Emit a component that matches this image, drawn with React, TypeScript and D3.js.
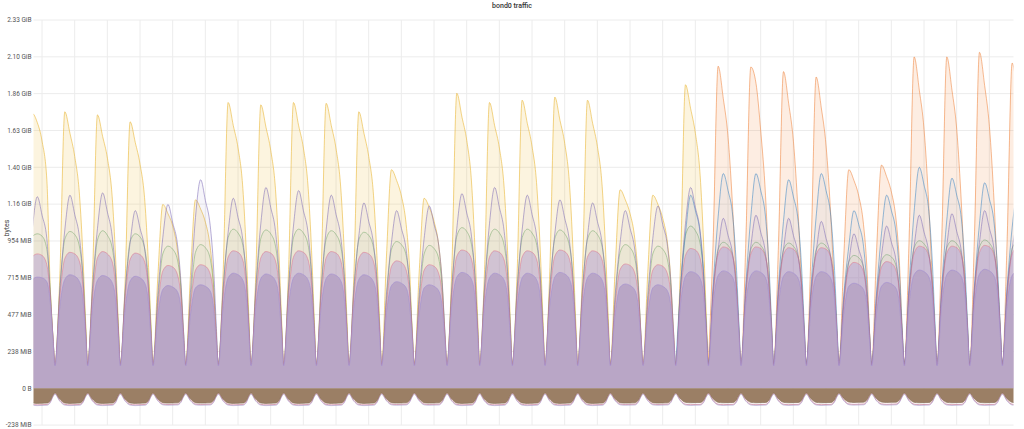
import React from "react";
import * as d3 from "d3";

const chartTitle = "bond0 traffic";
const yAxisTitle = "bytes";
const startTimeUtc = Date.UTC(2019, 2, 3, 17, 45);
const totalHours = 720;
const firstDipHour = -8.2;
const cycleOffsetsH = [0, 3.5, 7.2, 11, 14.5, 18, 20.5, 22.5];
const yTicksBytes = [-250e6, 0, 250e6, 500e6, 750e6, 1000e6, 1250e6, 1500e6, 1750e6, 2000e6, 2250e6, 2500e6];

// values in MiB, one row per daily cycle (dip -> rise -> peak -> decline)
const yellowStartCycle = 0;
const yellowMiB = [
  [155, 700, 1780, 1720, 1600, 1350, 650, 330],
  [150, 715, 1790, 1650, 1500, 1250, 860, 430],
  [150, 710, 1770, 1630, 1490, 1240, 850, 425],
  [150, 690, 1725, 1590, 1450, 1210, 830, 415],
  [150, 715, 1190, 1130, 1050, 890, 655, 300],
  [150, 730, 1220, 1160, 1075, 915, 670, 305],
  [150, 740, 1850, 1700, 1555, 1295, 890, 445],
  [150, 735, 1835, 1690, 1540, 1285, 880, 440],
  [150, 740, 1850, 1700, 1555, 1295, 890, 445],
  [150, 740, 1845, 1700, 1550, 1290, 885, 445],
  [150, 715, 1790, 1650, 1500, 1250, 860, 430],
  [150, 850, 1415, 1345, 1245, 1060, 780, 355],
  [150, 740, 1230, 1170, 1080, 920, 675, 310],
  [150, 765, 1910, 1755, 1605, 1335, 915, 460],
  [150, 740, 1850, 1700, 1555, 1295, 890, 445],
  [150, 745, 1865, 1715, 1565, 1305, 895, 450],
  [150, 755, 1885, 1735, 1585, 1320, 905, 450],
  [150, 745, 1865, 1715, 1565, 1305, 895, 450],
  [150, 770, 1285, 1220, 1130, 965, 705, 320],
  [150, 750, 1250, 1190, 1100, 940, 690, 315],
  [150, 785, 1965, 1810, 1650, 1375, 945, 470],
  [150],
];

const orangeStartCycle = 21;
const orangeMiB = [
  [150, 940, 2085, 1875, 1625, 1145, 690, 355],
  [150, 935, 2080, 1975, 1665, 1250, 770, 395],
  [150, 920, 2050, 1845, 1600, 1130, 675, 350],
  [150, 905, 2015, 1815, 1570, 1110, 665, 340],
  [150, 850, 1415, 1345, 1245, 1060, 780, 355],
  [150, 870, 1445, 1370, 1270, 1085, 795, 360],
  [150, 965, 2145, 1930, 1675, 1180, 710, 365],
  [150, 965, 2145, 1930, 1675, 1180, 710, 365],
  [150, 980, 2175, 1960, 1695, 1195, 720, 370],
  [150, 950, 2105, 1895],
];

const greenStartCycle = 0;
const greenMiB = [
  [150, 620, 980, 1000, 985, 900, 640, 330],
  [150, 625, 965, 1015, 995, 915, 725, 400],
  [150, 620, 960, 1020, 990, 910, 720, 400],
  [150, 610, 950, 1000, 980, 900, 715, 395],
  [150, 560, 870, 920, 900, 830, 650, 360],
  [150, 565, 880, 930, 910, 840, 655, 360],
  [150, 630, 975, 1030, 1005, 925, 730, 405],
  [150, 625, 970, 1025, 1000, 920, 725, 400],
  [150, 630, 975, 1030, 1005, 925, 730, 405],
  [150, 625, 965, 1020, 995, 915, 725, 400],
  [150, 620, 960, 1010, 990, 910, 720, 400],
  [150, 575, 900, 950, 930, 860, 670, 370],
  [150, 560, 870, 925, 905, 835, 650, 360],
  [150, 635, 985, 1040, 1015, 930, 735, 405],
  [150, 630, 975, 1030, 1005, 925, 730, 405],
  [150, 630, 975, 1030, 1005, 925, 730, 405],
  [150, 625, 970, 1025, 1000, 920, 725, 400],
  [150, 625, 965, 1020, 995, 915, 725, 400],
  [150, 565, 880, 930, 910, 840, 655, 360],
  [150, 560, 870, 920, 900, 830, 650, 360],
  [150, 640, 990, 1050, 1020, 935, 740, 410],
  [150, 600, 900, 945, 925, 855, 680, 380],
  [150, 600, 900, 945, 925, 855, 680, 380],
  [150, 595, 895, 940, 920, 850, 675, 375],
  [150, 595, 895, 940, 920, 850, 675, 375],
  [150, 545, 820, 860, 845, 785, 610, 345],
  [150, 550, 825, 865, 850, 790, 615, 345],
  [150, 605, 910, 955, 935, 865, 685, 385],
  [150, 605, 910, 955, 935, 865, 685, 385],
  [150, 610, 915, 960, 940, 870, 690, 385],
  [150, 600, 905, 950],
];

const purpleStartCycle = 0;
const purpleMiB = [
  [150, 640, 1020, 1240, 1120, 970, 600, 330],
  [150, 640, 1025, 1250, 1125, 975, 725, 375],
  [150, 645, 1035, 1265, 1140, 985, 735, 380],
  [150, 630, 945, 1150, 1035, 895, 665, 345],
  [150, 600, 975, 1190, 1070, 930, 690, 355],
  [150, 620, 1105, 1350, 1215, 1055, 785, 405],
  [150, 645, 1010, 1230, 1105, 960, 715, 370],
  [150, 650, 1065, 1300, 1170, 1015, 755, 390],
  [150, 650, 1050, 1280, 1150, 1000, 740, 385],
  [150, 645, 1025, 1250, 1125, 975, 725, 375],
  [150, 640, 985, 1200, 1080, 935, 695, 360],
  [150, 610, 945, 1150, 1035, 895, 665, 345],
  [150, 600, 970, 1180, 1060, 920, 685, 355],
  [150, 650, 1035, 1260, 1135, 985, 730, 380],
  [150, 650, 1065, 1300, 1170, 1015, 755, 390],
  [150, 645, 1025, 1250, 1125, 975, 725, 375],
  [150, 645, 1000, 1220, 1100, 950, 710, 365],
  [150, 640, 985, 1200, 1080, 935, 695, 360],
  [150, 600, 945, 1150, 1035, 895, 665, 345],
  [150, 600, 970, 1180, 1060, 920, 685, 355],
  [150, 655, 1065, 1300, 1170, 1015, 755, 390],
  [150, 640, 900, 1100, 990, 860, 640, 330],
  [150, 640, 920, 1120, 1010, 875, 650, 335],
  [150, 640, 900, 1100, 990, 860, 640, 330],
  [150, 635, 885, 1080, 970, 840, 625, 325],
  [150, 580, 820, 1000, 900, 780, 580, 300],
  [150, 590, 860, 1050, 945, 820, 610, 315],
  [150, 645, 920, 1120, 1010, 875, 650, 335],
  [150, 645, 925, 1130, 1015, 880, 655, 340],
  [150, 650, 945, 1150, 1035, 895, 665, 345],
  [150, 640, 900, 1100],
];

const blueStartCycle = 20;
const blueMiB = [
  [150, 640, 1000, 1250, 1150, 1000, 725, 375],
  [150, 660, 1110, 1390, 1280, 1110, 805, 415],
  [150, 660, 1110, 1390, 1280, 1110, 805, 415],
  [150, 655, 1080, 1350, 1240, 1080, 785, 405],
  [150, 660, 1110, 1390, 1280, 1110, 805, 415],
  [150, 600, 920, 1150, 1060, 920, 665, 345],
  [150, 610, 1000, 1250, 1150, 1000, 725, 375],
  [150, 665, 1145, 1430, 1315, 1145, 830, 430],
  [150, 660, 1090, 1360, 1250, 1090, 790, 410],
  [150, 655, 1065, 1330, 1225, 1065, 770, 400],
  [150, 650, 1040, 1300],
];

const pinkStartCycle = 0;
const pinkMiB = [
  [150, 585, 850, 870, 860, 800, 600, 330],
  [150, 585, 840, 880, 870, 820, 660, 375],
  [150, 585, 845, 885, 870, 820, 660, 375],
  [150, 580, 835, 875, 865, 815, 655, 370],
  [150, 525, 760, 795, 785, 735, 595, 340],
  [150, 530, 765, 800, 790, 740, 600, 340],
  [150, 590, 850, 890, 880, 830, 665, 380],
  [150, 590, 845, 885, 875, 825, 665, 375],
  [150, 590, 850, 890, 880, 830, 665, 380],
  [150, 585, 845, 885, 875, 825, 660, 375],
  [150, 585, 840, 880, 870, 820, 660, 375],
  [150, 545, 790, 825, 815, 765, 615, 350],
  [150, 530, 765, 800, 790, 740, 600, 340],
  [150, 595, 855, 895, 885, 835, 670, 380],
  [150, 590, 850, 890, 880, 830, 665, 380],
  [150, 590, 850, 890, 880, 830, 665, 380],
  [150, 595, 855, 895, 885, 835, 670, 380],
  [150, 590, 850, 890, 880, 830, 665, 380],
  [150, 535, 770, 805, 795, 745, 600, 345],
  [150, 530, 765, 800, 790, 740, 600, 340],
  [150, 600, 860, 905, 895, 840, 670, 380],
  [150, 605, 870, 915, 905, 850, 675, 385],
  [150, 605, 870, 915, 905, 850, 675, 385],
  [150, 600, 865, 910, 900, 845, 670, 380],
  [150, 600, 865, 910, 900, 845, 670, 380],
  [150, 540, 780, 815, 805, 755, 610, 345],
  [150, 545, 785, 820, 810, 760, 610, 345],
  [150, 610, 875, 920, 910, 855, 680, 385],
  [150, 610, 875, 920, 910, 855, 680, 385],
  [150, 615, 880, 925, 915, 860, 685, 390],
  [150, 605, 870, 915],
];

const bodyStartCycle = 0;
const bodyMiB = [
  [145, 520, 700, 720, 715, 690, 560, 320],
  [145, 525, 705, 735, 725, 690, 580, 335],
  [145, 520, 700, 730, 720, 685, 575, 330],
  [145, 515, 695, 725, 715, 680, 570, 330],
  [145, 470, 640, 665, 655, 625, 520, 300],
  [145, 475, 650, 670, 660, 630, 525, 300],
  [145, 530, 715, 745, 735, 700, 590, 340],
  [145, 530, 710, 740, 730, 695, 585, 335],
  [145, 530, 715, 745, 735, 700, 590, 340],
  [145, 525, 710, 740, 730, 695, 585, 335],
  [145, 520, 705, 735, 725, 690, 580, 335],
  [145, 490, 665, 690, 680, 650, 540, 310],
  [145, 475, 650, 670, 660, 630, 525, 300],
  [145, 535, 720, 750, 740, 705, 595, 340],
  [145, 530, 715, 745, 735, 700, 590, 340],
  [145, 530, 715, 745, 735, 700, 590, 340],
  [145, 535, 720, 750, 740, 705, 595, 340],
  [145, 530, 715, 745, 735, 700, 590, 340],
  [145, 480, 655, 675, 665, 635, 530, 305],
  [145, 475, 650, 670, 660, 630, 525, 300],
  [145, 540, 725, 755, 745, 710, 600, 345],
  [145, 545, 730, 760, 750, 715, 600, 345],
  [145, 545, 730, 760, 750, 715, 600, 345],
  [145, 540, 725, 755, 745, 710, 595, 340],
  [145, 540, 725, 755, 745, 710, 595, 340],
  [145, 485, 660, 680, 670, 640, 535, 305],
  [145, 485, 660, 685, 675, 645, 535, 305],
  [145, 550, 735, 765, 755, 720, 605, 345],
  [145, 550, 735, 765, 755, 720, 605, 345],
  [145, 550, 740, 770, 760, 725, 610, 350],
  [145, 545, 730, 760],
];

const outStartCycle = 0;
const outMiB = [
  [-30, -70, -95, -98, -97, -96, -80, -45],
  [-30, -70, -95, -98, -97, -96, -80, -45],
  [-30, -70, -95, -98, -97, -96, -80, -45],
  [-30, -70, -95, -98, -97, -96, -80, -45],
  [-30, -68, -93, -96, -95, -94, -78, -45],
  [-30, -68, -93, -96, -95, -94, -78, -45],
  [-30, -70, -95, -98, -97, -96, -80, -45],
  [-30, -70, -95, -98, -97, -96, -80, -45],
  [-30, -70, -95, -98, -97, -96, -80, -45],
  [-30, -70, -95, -98, -97, -96, -80, -45],
  [-30, -70, -95, -98, -97, -96, -80, -45],
  [-30, -68, -93, -96, -95, -94, -78, -45],
  [-30, -68, -93, -96, -95, -94, -78, -45],
  [-30, -70, -95, -98, -97, -96, -80, -45],
  [-30, -70, -95, -98, -97, -96, -80, -45],
  [-30, -70, -95, -98, -97, -96, -80, -45],
  [-30, -70, -95, -98, -97, -96, -80, -45],
  [-30, -70, -95, -98, -97, -96, -80, -45],
  [-30, -68, -93, -96, -95, -94, -78, -45],
  [-30, -68, -93, -96, -95, -94, -78, -45],
  [-30, -68, -91, -94, -93, -92, -77, -44],
  [-30, -68, -91, -94, -93, -92, -77, -44],
  [-30, -68, -91, -94, -93, -92, -77, -44],
  [-30, -68, -91, -94, -93, -92, -77, -44],
  [-30, -68, -91, -94, -93, -92, -77, -44],
  [-30, -66, -89, -92, -91, -90, -75, -44],
  [-30, -66, -89, -92, -91, -90, -75, -44],
  [-30, -68, -91, -94, -93, -92, -77, -44],
  [-30, -68, -91, -94, -93, -92, -77, -44],
  [-30, -68, -91, -94, -93, -92, -77, -44],
  [-30, -68, -91, -94],
];

const outEdgeStartCycle = 0;
const outEdgeMiB = [
  [-34, -78, -104, -107, -106, -105, -88, -50],
  [-34, -78, -104, -107, -106, -105, -88, -50],
  [-34, -78, -104, -107, -106, -105, -88, -50],
  [-34, -78, -104, -107, -106, -105, -88, -50],
  [-34, -76, -102, -105, -104, -103, -86, -50],
  [-34, -76, -102, -105, -104, -103, -86, -50],
  [-34, -78, -104, -107, -106, -105, -88, -50],
  [-34, -78, -104, -107, -106, -105, -88, -50],
  [-34, -78, -104, -107, -106, -105, -88, -50],
  [-34, -78, -104, -107, -106, -105, -88, -50],
  [-34, -78, -104, -107, -106, -105, -88, -50],
  [-34, -76, -102, -105, -104, -103, -86, -50],
  [-34, -76, -102, -105, -104, -103, -86, -50],
  [-34, -78, -104, -107, -106, -105, -88, -50],
  [-34, -78, -104, -107, -106, -105, -88, -50],
  [-34, -78, -104, -107, -106, -105, -88, -50],
  [-34, -78, -104, -107, -106, -105, -88, -50],
  [-34, -78, -104, -107, -106, -105, -88, -50],
  [-34, -76, -102, -105, -104, -103, -86, -50],
  [-34, -76, -102, -105, -104, -103, -86, -50],
  [-34, -78, -103, -106, -105, -104, -87, -50],
  [-34, -78, -103, -106, -105, -104, -87, -50],
  [-34, -78, -103, -106, -105, -104, -87, -50],
  [-34, -78, -103, -106, -105, -104, -87, -50],
  [-34, -78, -103, -106, -105, -104, -87, -50],
  [-34, -76, -101, -104, -103, -102, -85, -50],
  [-34, -76, -101, -104, -103, -102, -85, -50],
  [-34, -78, -103, -106, -105, -104, -87, -50],
  [-34, -78, -103, -106, -105, -104, -87, -50],
  [-34, -78, -103, -106, -105, -104, -87, -50],
  [-34, -78, -103, -106],
];

const MIB = 1048576;
const GIB = 1073741824;

type Pt = { t: Date; v: number };

function toPoints(startCycle: number, rows: number[][]): Pt[] {
  const pts: Pt[] = [];
  rows.forEach((row, i) =>
    row.forEach((v, j) => {
      const h = firstDipHour + 24 * (startCycle + i) + cycleOffsetsH[j];
      pts.push({ t: new Date(startTimeUtc + h * 3600e3), v: v * MIB });
    })
  );
  return pts;
}

function fmtBytes(b: number): string {
  if (b === 0) return "0 B";
  if (Math.abs(b) >= GIB) return (b / GIB).toFixed(2) + " GiB";
  return Math.round(b / MIB) + " MiB";
}

const W = 1024;
const H = 429;
const plotLeft = 33.5;
const plotRight = 1013.5;
const plotTop = 20;
const plotBottom = 425.1;

export default function App() {
  const x = d3
    .scaleUtc()
    .domain([new Date(startTimeUtc), new Date(startTimeUtc + totalHours * 3600e3)])
    .range([plotLeft, plotRight]);
  const y = d3.scaleLinear().domain([-250e6, 2500e6]).range([plotBottom, plotTop]);

  const curve = d3.curveMonotoneX;
  const area = d3
    .area<Pt>()
    .x((d) => x(d.t))
    .y0(y(0))
    .y1((d) => y(d.v))
    .curve(curve);
  const line = d3
    .line<Pt>()
    .x((d) => x(d.t))
    .y((d) => y(d.v))
    .curve(curve);

  const yellow = toPoints(yellowStartCycle, yellowMiB);
  const orange = toPoints(orangeStartCycle, orangeMiB);
  const green = toPoints(greenStartCycle, greenMiB);
  const purple = toPoints(purpleStartCycle, purpleMiB);
  const blue = toPoints(blueStartCycle, blueMiB);
  const pink = toPoints(pinkStartCycle, pinkMiB);
  const body = toPoints(bodyStartCycle, bodyMiB);
  const out = toPoints(outStartCycle, outMiB);
  const outEdge = toPoints(outEdgeStartCycle, outEdgeMiB);

  const dayLines = x.ticks(d3.utcDay.every(1) as any);

  const font = "Roboto, 'Helvetica Neue', Arial, sans-serif";

  return (
    <svg
      width={W}
      height={H}
      style={{ position: "absolute", left: 0, top: 0, display: "block", background: "#fff" }}
    >
      <defs>
        <clipPath id="plotClip">
          <rect x={plotLeft} y={plotTop - 2} width={plotRight - plotLeft} height={plotBottom - plotTop + 4} />
        </clipPath>
      </defs>
      <text x={512} y={8} textAnchor="middle" fontFamily={font} fontSize={7} fontWeight={500} fill="#333">
        {chartTitle}
      </text>
      {yTicksBytes.map((b) => (
        <g key={b}>
          <line x1={plotLeft} x2={plotRight} y1={y(b)} y2={y(b)} stroke="#ececec" strokeWidth={1} />
          <text
            x={31.5}
            y={y(b)}
            dy="0.35em"
            textAnchor="end"
            fontFamily={font}
            fontSize={6.5}
            fill="#555"
          >
            {fmtBytes(b)}
          </text>
        </g>
      ))}
      {dayLines.map((d, i) => (
        <line key={i} x1={x(d)} x2={x(d)} y1={plotTop} y2={plotBottom} stroke="#ececec" strokeWidth={1} />
      ))}
      <text
        transform={`translate(9,228) rotate(-90)`}
        textAnchor="middle"
        fontFamily={font}
        fontSize={7}
        fill="#444"
      >
        {yAxisTitle}
      </text>
      <g clipPath="url(#plotClip)">
        <path d={area(yellow) || ""} fill="#EAB839" fillOpacity={0.16} />
        <path d={line(yellow) || ""} fill="none" stroke="#EAB839" strokeOpacity={0.6} strokeWidth={1} />
        <path d={area(orange) || ""} fill="#EF843C" fillOpacity={0.15} />
        <path d={line(orange) || ""} fill="none" stroke="#EF843C" strokeOpacity={0.55} strokeWidth={1} />
        <path d={area(green) || ""} fill="#7EB26D" fillOpacity={0.06} />
        <path d={line(green) || ""} fill="none" stroke="#7EB26D" strokeOpacity={0.7} strokeWidth={0.8} />
        <path d={area(blue) || ""} fill="#1F78C1" fillOpacity={0.05} />
        <path d={line(blue) || ""} fill="none" stroke="#1F78C1" strokeOpacity={0.6} strokeWidth={0.8} />
        <path d={area(purple) || ""} fill="#806EB7" fillOpacity={0.07} />
        <path d={line(purple) || ""} fill="none" stroke="#806EB7" strokeOpacity={0.7} strokeWidth={0.8} />
        <path d={area(pink) || ""} fill="#a98fd3" fillOpacity={0.4} />
        <path d={line(pink) || ""} fill="none" stroke="#E0607E" strokeOpacity={0.55} strokeWidth={0.8} />
        <path d={area(body) || ""} fill="#b9a6c6" />
        <path d={line(body) || ""} fill="none" stroke="#a48fd0" strokeOpacity={0.8} strokeWidth={0.8} />
        <path d={line(outEdge) || ""} fill="none" stroke="#c0607e" strokeOpacity={0.7} strokeWidth={0.8} />
        <path d={line(outEdge) || ""} fill="none" stroke="#806EB7" strokeOpacity={0.5} strokeWidth={0.8} transform="translate(0,0.8)" />
        <path d={area(out) || ""} fill="#9b7f65" />
        <path d={line(out) || ""} fill="none" stroke="#8a7058" strokeOpacity={0.9} strokeWidth={0.8} />
      </g>
    </svg>
  );
}
